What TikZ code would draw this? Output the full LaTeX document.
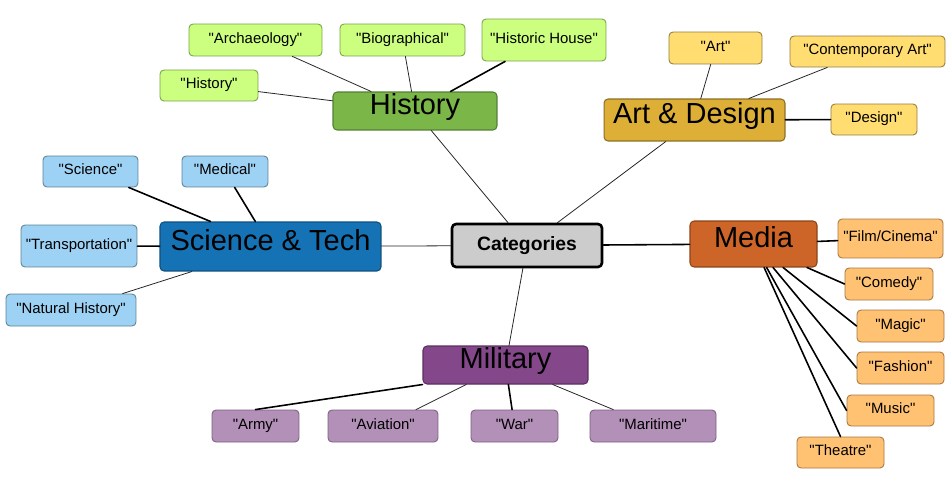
\documentclass[tikz,border=0pt]{standalone}
\usepackage{fontspec}
\setmainfont{Liberation Sans}
\usepackage{tikz}
\definecolor{catfill}{HTML}{CBCCCB}
\definecolor{hisfill}{HTML}{7AB648}
\definecolor{hisdraw}{HTML}{557F33}
\definecolor{hisleaf}{HTML}{CCFF80}
\definecolor{hisleafdraw}{HTML}{78A243}
\definecolor{artfill}{HTML}{DDAF37}
\definecolor{artdraw}{HTML}{8C6E25}
\definecolor{artleaffill}{HTML}{FFDD70}
\definecolor{artleafdraw}{HTML}{957C40}
\definecolor{scifill}{HTML}{1573B5}
\definecolor{scidraw}{HTML}{0E4F7E}
\definecolor{scileaf}{HTML}{9ED2F4}
\definecolor{scileafdraw}{HTML}{5C8196}
\definecolor{medfill}{HTML}{CD6528}
\definecolor{meddraw}{HTML}{8D4418}
\definecolor{medleaf}{HTML}{FFC273}
\definecolor{medleafdraw}{HTML}{A87640}
\definecolor{milfill}{HTML}{83478A}
\definecolor{mildraw}{HTML}{5A2F60}
\definecolor{milleaf}{HTML}{B290B7}
\definecolor{milleafdraw}{HTML}{7D5F83}
\newcommand{\qt}[1]{\textquotedbl#1\textquotedbl}
\tikzset{
  box/.style={draw, rounded corners=2.3pt, inner sep=0pt, line width=0.6pt},
  mainbox/.style={box, font=\fontsize{16.5}{18}\selectfont, text height=9pt, text depth=5pt},
  leafbox/.style={box, line width=0.5pt, font=\fontsize{8.5}{10}\selectfont, text height=6pt, text depth=2.5pt},
  link/.style={line width=0.45pt, color=black!85},
  boldlink/.style={line width=0.9pt, color=black},
}

\begin{document}
\begin{tikzpicture}[line cap=round,line join=round,x=0.02cm,y=-0.02cm]
\useasboundingbox (0,0) rectangle (952,500);
% centre and main branches
\node[box, line width=1.5pt, fill=catfill, font=\fontsize{11}{13}\selectfont\bfseries, minimum width=3.0cm, minimum height=0.86cm] (cat) at (527,245.5) {Categories};
\node[mainbox, fill=hisfill, draw=hisdraw, minimum width=3.28cm, minimum height=0.76cm] (hist) at (415,111) {History};
\node[mainbox, fill=artfill, draw=artdraw, minimum width=3.62cm, minimum height=0.84cm] (art) at (694.5,120) {Art \& Design};
\node[mainbox, fill=scifill, draw=scidraw, minimum width=4.42cm, minimum height=0.98cm] (sci) at (270.5,246.5) {Science \& Tech};
\node[mainbox, fill=medfill, draw=meddraw, minimum width=2.54cm, minimum height=0.92cm] (media) at (753.5,244) {Media};
\node[mainbox, fill=milfill, draw=mildraw, minimum width=3.3cm, minimum height=0.76cm] (mil) at (505.5,365) {Military};
% history
\node[leafbox, fill=hisleaf, draw=hisleafdraw, minimum width=2.66cm, minimum height=0.64cm] (arch) at (255.5,40) {\qt{Archaeology}};
\node[leafbox, fill=hisleaf, draw=hisleafdraw, minimum width=2.5cm, minimum height=0.64cm] (bio) at (402.5,40) {\qt{Biographical}};
\node[leafbox, fill=hisleaf, draw=hisleafdraw, minimum width=2.48cm, minimum height=0.84cm] (house) at (544,40) {\qt{Historic House}};
\node[leafbox, fill=hisleaf, draw=hisleafdraw, minimum width=1.96cm, minimum height=0.62cm] (histleaf) at (209,85.5) {\qt{History}};
% art
\node[leafbox, fill=artleaffill, draw=artleafdraw, minimum width=1.86cm, minimum height=0.64cm] (artleaf) at (715.5,48) {\qt{Art}};
\node[leafbox, fill=artleaffill, draw=artleafdraw, minimum width=3.1cm, minimum height=0.62cm] (contemp) at (867.5,51.5) {\qt{Contemporary Art}};
\node[leafbox, fill=artleaffill, draw=artleafdraw, minimum width=1.72cm, minimum height=0.62cm] (design) at (874,119.5) {\qt{Design}};
% science
\node[leafbox, fill=scileaf, draw=scileafdraw, minimum width=1.9cm, minimum height=0.62cm] (science) at (90.5,171.5) {\qt{Science}};
\node[leafbox, fill=scileaf, draw=scileafdraw, minimum width=1.72cm, minimum height=0.62cm] (medical) at (225,171.5) {\qt{Medical}};
\node[leafbox, fill=scileaf, draw=scileafdraw, minimum width=2.32cm, minimum height=0.84cm] (transp) at (79,246) {\qt{Transportation}};
\node[leafbox, fill=scileaf, draw=scileafdraw, minimum width=2.6cm, minimum height=0.64cm] (nathist) at (71,310) {\qt{Natural History}};
% media
\node[leafbox, fill=medleaf, draw=medleafdraw, minimum width=2.1cm, minimum height=0.78cm] (film) at (890.5,238.5) {\qt{Film/Cinema}};
\node[leafbox, fill=medleaf, draw=medleafdraw, minimum width=1.76cm, minimum height=0.64cm] (comedy) at (889,284) {\qt{Comedy}};
\node[leafbox, fill=medleaf, draw=medleafdraw, minimum width=1.74cm, minimum height=0.64cm] (magic) at (900.5,326) {\qt{Magic}};
\node[leafbox, fill=medleaf, draw=medleafdraw, minimum width=1.74cm, minimum height=0.64cm] (fashion) at (900.5,368) {\qt{Fashion}};
\node[leafbox, fill=medleaf, draw=medleafdraw, minimum width=1.74cm, minimum height=0.62cm] (music) at (890.5,410.5) {\qt{Music}};
\node[leafbox, fill=medleaf, draw=medleafdraw, minimum width=1.74cm, minimum height=0.62cm] (theatre) at (840.5,452.5) {\qt{Theatre}};
% military
\node[leafbox, fill=milleaf, draw=milleafdraw, minimum width=1.74cm, minimum height=0.64cm] (army) at (255.5,426) {\qt{Army}};
\node[leafbox, fill=milleaf, draw=milleafdraw, minimum width=2.2cm, minimum height=0.64cm] (aviation) at (383,426) {\qt{Aviation}};
\node[leafbox, fill=milleaf, draw=milleafdraw, minimum width=1.74cm, minimum height=0.64cm] (war) at (514.5,426) {\qt{War}};
\node[leafbox, fill=milleaf, draw=milleafdraw, minimum width=2.52cm, minimum height=0.64cm] (maritime) at (653,426) {\qt{Maritime}};
% links
\draw[link] (cat) -- (hist);
\draw[link] (cat) -- (art);
\draw[link] (cat) -- (sci);
\draw[boldlink] (cat) -- (media);
\draw[link] (cat) -- (mil);
\draw[link] (hist) -- (arch);
\draw[link] (hist) -- (bio);
\draw[boldlink] (hist) -- (house);
\draw[link] (hist) -- (histleaf);
\draw[link] (art) -- (artleaf);
\draw[link] (art) -- (contemp);
\draw[boldlink] (art) -- (design);
\draw[boldlink] (sci) -- (science);
\draw[boldlink] (sci) -- (medical);
\draw[boldlink] (sci) -- (transp);
\draw[link] (sci) -- (nathist);
\draw[boldlink] (media) -- (film);
\draw[boldlink] (media) -- (comedy.west);
\draw[boldlink] (media) -- (magic.west);
\draw[boldlink] (media) -- (fashion.west);
\draw[boldlink] (media) -- (music.west);
\draw[boldlink] (media) -- (theatre.north);
\draw[boldlink] (mil.south west) -- (army.north);
\draw[link] (mil) -- (aviation);
\draw[boldlink] (mil) -- (war);
\draw[link] (mil) -- (maritime);
\end{tikzpicture}
\end{document}
